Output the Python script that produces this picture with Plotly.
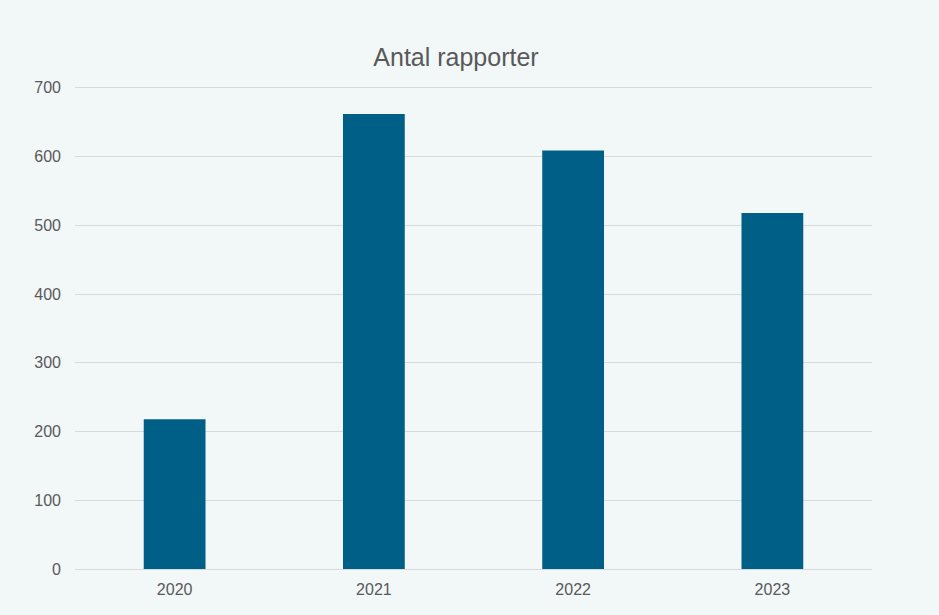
import plotly.graph_objects as go

years = ["2020", "2021", "2022", "2023"]
values = [218, 662, 609, 518]
y_ticks = [0, 100, 200, 300, 400, 500, 600, 700]

fig = go.Figure(go.Bar(x=years, y=values, marker=dict(color="#005F87", line=dict(width=0)), width=0.31,
                       hoverinfo="skip"))

fig.update_layout(
    width=939, height=615,
    paper_bgcolor="#F2F7F8", plot_bgcolor="#F2F7F8",
    margin=dict(l=75, r=67, t=81, b=46),
    title=dict(text="Antal rapporter", x=456 / 939, xanchor="center", y=1 - 57 / 615, yanchor="middle",
               font=dict(family="Liberation Sans, Arial", size=25, color="#595959")),
    font=dict(family="Liberation Sans, Arial", size=16, color="#595959"),
    showlegend=False,
)
fig.update_xaxes(showgrid=False, showline=True, linecolor="#D9D9D9", linewidth=1, ticks="",
                 ticklabelstandoff=6, tickfont=dict(size=16, color="#595959"))
fig.update_yaxes(range=[0, 710], tickvals=y_ticks, showgrid=True, gridcolor="#D9D9D9", gridwidth=1,
                 zeroline=False, showline=False, ticks="", ticklabelstandoff=13,
                 tickfont=dict(size=16, color="#595959"))

fig.write_html("out.html", config={"displayModeBar": False},
               post_script="document.body.style.margin='0';document.body.style.padding='0';")
